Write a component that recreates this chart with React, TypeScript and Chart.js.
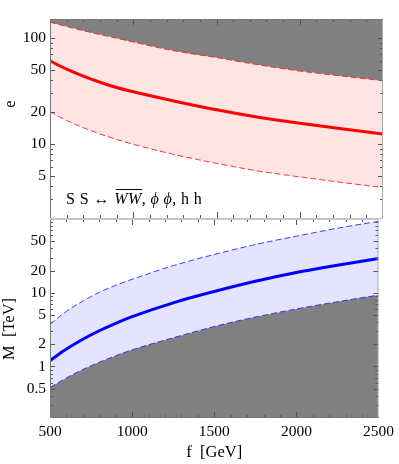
import React, { useEffect, useRef } from "react";
import { Chart, registerables } from "chart.js";

Chart.register(...registerables);

// ---- data ----
const fValues = [500, 600, 700, 800, 900, 1000, 1250, 1500, 1750, 2000, 2250, 2500];
const eCentral = [60.4, 50.5, 43.4, 38.0, 33.9, 30.9, 25.2, 20.9, 17.8, 15.6, 13.9, 12.4];
const eUpper = [140, 127.5, 116.5, 107, 99, 91, 75, 65, 55.5, 48.5, 43.5, 39.3];
const eLower = [20, 16.6, 14.2, 12.4, 11.0, 9.9, 7.9, 6.55, 5.55, 4.88, 4.33, 3.88];
const mCentral = [1.2, 1.72, 2.34, 3.05, 3.85, 4.74, 7.3, 10.4, 14.3, 18.8, 23.6, 29.2];
const mUpper = [3.74, 5.6, 7.7, 10.1, 12.6, 15.2, 23.3, 33, 45, 58.5, 75, 93];
const mLower = [0.52, 0.7, 0.91, 1.14, 1.4, 1.68, 2.45, 3.48, 4.68, 6.03, 7.55, 9.3];
const xTickLabels = [500, 1000, 1500, 2000, 2500];
const eTickLabels = [5, 10, 20, 50, 100];
const mTickLabels = [0.5, 1, 2, 5, 10, 20, 50];

const FONT = '"Liberation Serif", "Times New Roman", serif';

const pts = (arr: number[]) => fValues.map((f, i) => ({ x: f, y: arr[i] }));

function logTicks(min: number, max: number) {
  const out: { value: number }[] = [];
  for (let p = -2; p <= 3; p++) {
    for (let m = 1; m <= 9; m++) {
      const v = parseFloat(`${m}e${p}`);
      if (v >= min - 1e-9 && v <= max + 1e-9) out.push({ value: v });
    }
  }
  return out;
}

function linTicks(min: number, max: number, step: number) {
  const out: { value: number }[] = [];
  for (let v = min; v <= max + 1e-9; v += step) out.push({ value: v });
  return out;
}

const framePlugin = {
  id: "frameTicks",
  afterDatasetsDraw(chart: any, _args: any, opts: any) {
    const { ctx, chartArea: a, scales } = chart;
    const xs = scales.x;
    const ys = scales.y;
    ctx.save();
    ctx.lineWidth = 1;
    ctx.strokeStyle = "#555";
    ctx.beginPath();
    for (const t of linTicks(xs.min, xs.max, 100)) {
      const px = Math.round(xs.getPixelForValue(t.value)) + 0.5;
      if (px < a.left + 1.5 || px > a.right - 1.5) continue;
      const len = xTickLabels.includes(t.value) ? 6 : 3;
      ctx.moveTo(px, a.bottom);
      ctx.lineTo(px, a.bottom - len);
      ctx.moveTo(px, a.top);
      ctx.lineTo(px, a.top + len);
    }
    for (const t of logTicks(ys.min, ys.max)) {
      const py = Math.round(ys.getPixelForValue(t.value)) + 0.5;
      if (py < a.top + 1.5 || py > a.bottom - 1.5) continue;
      const len = opts.yMajor.includes(t.value) ? 5 : 3;
      ctx.moveTo(a.left, py);
      ctx.lineTo(a.left + len, py);
      ctx.moveTo(a.right, py);
      ctx.lineTo(a.right - len, py);
    }
    ctx.stroke();

    const edge = (color: string, x1: number, y1: number, x2: number, y2: number) => {
      ctx.strokeStyle = color;
      ctx.lineWidth = 1;
      ctx.beginPath();
      ctx.moveTo(x1, y1);
      ctx.lineTo(x2, y2);
      ctx.stroke();
    };
    const L = a.left + 0.5;
    const R = a.right - 0.5;
    const T = a.top + 0.5;
    const B = opts.bottomIsSeparator ? a.bottom + 0.5 : a.bottom - 0.5;
    edge("#777", L, a.top, L, a.bottom);
    edge("#aaa", R, a.top, R, a.bottom);
    edge(opts.topIsSeparator ? "#c4c4c4" : "#777", a.left, T, a.right, T);
    edge(opts.bottomIsSeparator ? "#c4c4c4" : "#777", a.left, B, a.right, B);
    ctx.restore();
  },
};

const textPlugin = {
  id: "panelTexts",
  afterDraw(chart: any, _args: any, opts: any) {
    const ctx = chart.ctx;
    ctx.save();
    ctx.fillStyle = "#000";
    // y-axis title
    ctx.save();
    ctx.translate(opts.titleX, opts.titleY);
    ctx.rotate(-Math.PI / 2);
    ctx.font = `16.5px ${FONT}`;
    ctx.textAlign = "center";
    ctx.textBaseline = "alphabetic";
    ctx.fillText(opts.title, 0, 0);
    ctx.restore();

    if (opts.annotation) {
      const a = chart.chartArea;
      let x = a.left + 16;
      const y = a.bottom - 14;
      ctx.textAlign = "left";
      ctx.textBaseline = "alphabetic";
      try {
        (ctx as any).letterSpacing = "0.4px";
      } catch (e) {
        /* ignore */
      }
      const parts: [string, boolean, boolean][] = [
        ["S S \u2194 ", false, false],
        ["WW", true, true],
        [", ", false, false],
        ["\u03D5", true, false],
        [" ", false, false],
        ["\u03D5", true, false],
        [", h h", false, false],
      ];
      for (const [txt, italic, over] of parts) {
        ctx.font = `${italic ? "italic " : ""}16px ${FONT}`;
        ctx.fillText(txt, x, y);
        const w = ctx.measureText(txt).width;
        if (over) {
          ctx.strokeStyle = "#000";
          ctx.lineWidth = 1;
          ctx.beginPath();
          ctx.moveTo(x + 1.5, y - 14.5);
          ctx.lineTo(x + w + 0.5, y - 14.5);
          ctx.stroke();
        }
        x += w;
      }
    }
    ctx.restore();
  },
};

const lineBase = {
  pointRadius: 0,
  pointHoverRadius: 0,
  cubicInterpolationMode: "monotone" as const,
};

function yScale(min: number, max: number, labels: number[]) {
  return {
    type: "logarithmic" as const,
    min,
    max,
    afterBuildTicks: (s: any) => {
      s.ticks = logTicks(min, max);
    },
    afterFit: (s: any) => {
      s.width = 50;
      s.paddingTop = 0;
      s.paddingBottom = 0;
    },
    ticks: {
      autoSkip: false,
      padding: 4,
      color: "#000",
      font: { family: FONT, size: 15.5 },
      callback: (v: any) => (labels.includes(Number(v)) ? String(v) : null),
    },
    grid: { display: false, drawTicks: false },
    border: { display: false },
  };
}

export default function App() {
  const topRef = useRef<HTMLCanvasElement>(null);
  const botRef = useRef<HTMLCanvasElement>(null);

  useEffect(() => {
    const top = new Chart(topRef.current as HTMLCanvasElement, {
      type: "line",
      data: {
        datasets: [
          { ...lineBase, label: "e", data: pts(eCentral), borderColor: "#ff0000", borderWidth: 3, fill: false },
          {
            ...lineBase,
            label: "e upper",
            data: pts(eUpper),
            borderColor: "rgba(255,20,20,0.85)",
            borderWidth: 1,
            borderDash: [6, 3],
            fill: "end",
            backgroundColor: "#808080",
          },
          {
            ...lineBase,
            label: "e lower",
            data: pts(eLower),
            borderColor: "rgba(255,20,20,0.85)",
            borderWidth: 1,
            borderDash: [6, 3],
            fill: 1,
            backgroundColor: "rgb(255,228,228)",
          },
        ],
      } as any,
      options: {
        responsive: false,
        animation: false,
        devicePixelRatio: 1,
        layout: { padding: { top: 19, right: 16, bottom: 1, left: 0 } },
        plugins: {
          legend: { display: false },
          tooltip: { enabled: false },
          frameTicks: { yMajor: eTickLabels, topIsSeparator: false, bottomIsSeparator: true },
          panelTexts: { title: "e", titleX: 15, titleY: 104, annotation: true },
        } as any,
        scales: {
          x: {
            type: "linear",
            min: 500,
            max: 2500,
            afterBuildTicks: (s: any) => {
              s.ticks = linTicks(500, 2500, 100);
            },
            afterFit: (s: any) => {
              s.height = 0;
              s.paddingLeft = 0;
              s.paddingRight = 0;
            },
            ticks: { display: false },
            grid: { display: false, drawTicks: false },
            border: { display: false },
          },
          y: yScale(2, 150, eTickLabels),
        } as any,
      },
      plugins: [framePlugin, textPlugin],
    });

    const bot = new Chart(botRef.current as HTMLCanvasElement, {
      type: "line",
      data: {
        datasets: [
          { ...lineBase, label: "M", data: pts(mCentral), borderColor: "#0000ff", borderWidth: 3, fill: false },
          {
            ...lineBase,
            label: "M lower",
            data: pts(mLower),
            borderColor: "rgba(30,30,255,0.85)",
            borderWidth: 1,
            borderDash: [6, 3],
            fill: "start",
            backgroundColor: "#808080",
          },
          {
            ...lineBase,
            label: "M upper",
            data: pts(mUpper),
            borderColor: "rgba(30,30,255,0.85)",
            borderWidth: 1,
            borderDash: [6, 3],
            fill: 1,
            backgroundColor: "rgb(228,228,255)",
          },
        ],
      } as any,
      options: {
        responsive: false,
        animation: false,
        devicePixelRatio: 1,
        layout: { padding: { top: 0, right: 16, bottom: 0, left: 0 } },
        plugins: {
          legend: { display: false },
          tooltip: { enabled: false },
          frameTicks: { yMajor: mTickLabels, topIsSeparator: true, bottomIsSeparator: false },
          panelTexts: { title: "M  [TeV]", titleX: 13.5, titleY: 110, annotation: false },
        } as any,
        scales: {
          x: {
            type: "linear",
            min: 500,
            max: 2500,
            afterBuildTicks: (s: any) => {
              s.ticks = linTicks(500, 2500, 100);
            },
            afterFit: (s: any) => {
              s.height = 46;
            },
            ticks: {
              autoSkip: false,
              maxRotation: 0,
              minRotation: 0,
              padding: 5,
              color: "#000",
              font: { family: FONT, size: 15.5 },
              callback: (v: any) => (xTickLabels.includes(Number(v)) ? String(v) : null),
            },
            title: {
              display: true,
              text: "f  [GeV]",
              color: "#000",
              font: { family: FONT, size: 16.5 },
              padding: { top: 0, bottom: 1 },
            },
            grid: { display: false, drawTicks: false },
            border: { display: false },
          },
          y: yScale(0.2, 100, mTickLabels),
        } as any,
      },
      plugins: [framePlugin, textPlugin],
    });

    return () => {
      top.destroy();
      bot.destroy();
    };
  }, []);

  return (
    <div style={{ position: "absolute", left: 0, top: 0, width: 399, height: 464, background: "#fff" }}>
      <canvas ref={topRef} width={399} height={219} style={{ position: "absolute", left: 0, top: 0, display: "block" }} />
      <canvas ref={botRef} width={399} height={245} style={{ position: "absolute", left: 0, top: 219, display: "block" }} />
    </div>
  );
}
